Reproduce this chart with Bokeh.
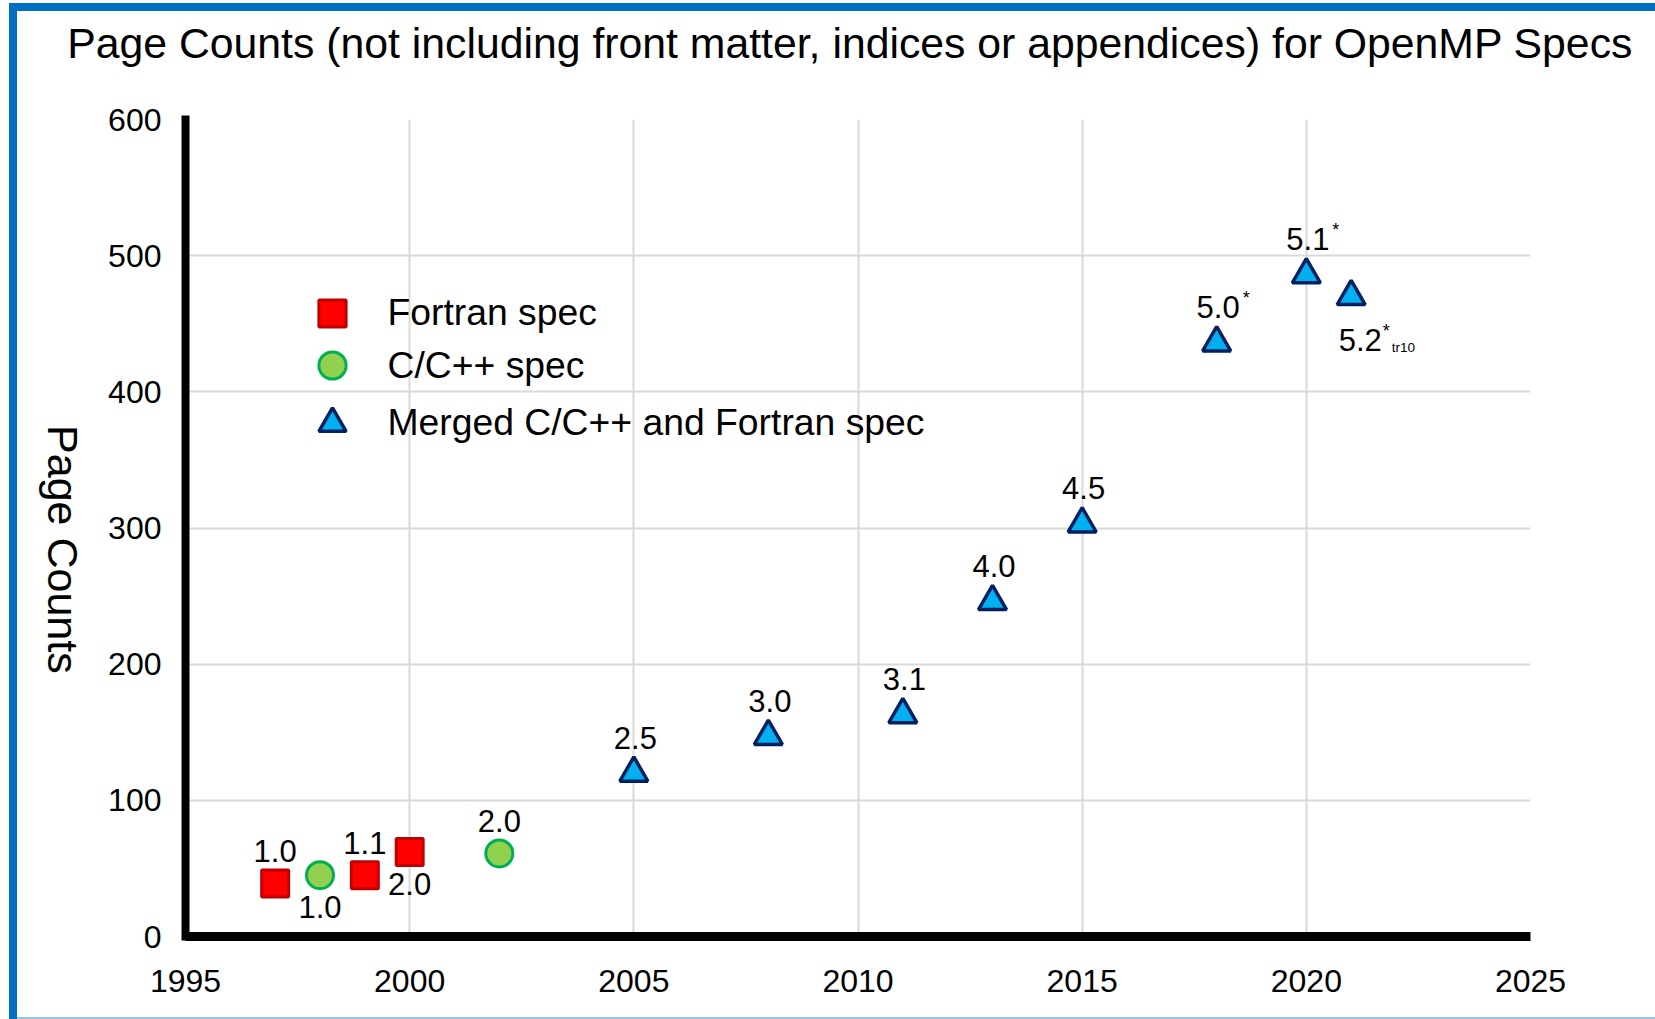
import math
from bokeh.plotting import figure
from bokeh.models import (Legend, LegendItem, LinearAxis, Title, FixedTicker,
                          SingleIntervalTicker, Range1d, ColumnDataSource)
from bokeh.core.properties import value
from bokeh.embed import file_html
from bokeh.resources import INLINE

# ---------------- data ----------------
title_text = "Page Counts (not including front matter, indices or appendices) for OpenMP Specs"
y_title = "Page Counts"

fortran_years = [1997, 1999, 2000]
fortran_pages = [39, 45, 62]
fortran_versions = ["1.0", "1.1", "2.0"]

c_years = [1998, 2002]
c_pages = [45, 61]
c_versions = ["1.0", "2.0"]

merged_years = [2005, 2008, 2011, 2013, 2015, 2018, 2020, 2021]
merged_pages = [120, 147, 163, 246, 303, 436, 486, 470]
merged_versions = ["2.5", "3.0", "3.1", "4.0", "4.5", "5.0", "5.1", "5.2"]
merged_marks = ["", "", "", "", "", "*", "*", "*"]
merged_notes = ["", "", "", "", "", "", "", "tr10"]

series_names = ["Fortran spec", "C/C++ spec", "Merged C/C++ and Fortran spec"]

x_start, x_end, x_step = 1995, 2025, 5
y_start, y_end, y_step = 0, 600, 100

# label placement (style, not data)
fortran_place = ["above", "above", "below"]
c_place = ["below", "above"]
merged_place = ["above-tri"] * 7 + ["below-right"]

FONT = "Liberation Sans"

p = figure(width=1655, height=1019,
           x_range=Range1d(x_start, x_end), y_range=Range1d(y_start, y_end),
           output_backend="svg", toolbar_location=None, title=None,
           min_border_left=185, min_border_right=125,
           min_border_top=119, min_border_bottom=83)
p.background_fill_color = "white"
p.border_fill_color = "white"
p.border_fill_alpha = 0
p.outline_line_color = None
p.styles = {
    "background-color": "white",
    "box-shadow": ("inset 9px 0 0 0 #ffffff, inset 0 3px 0 0 #ffffff, "
                   "inset 17px 0 0 0 #0070C0, inset 0 11px 0 0 #0070C0, "
                   "inset 0 -2px 0 0 #9DC3E6"),
}

# axes
p.xaxis.ticker = SingleIntervalTicker(interval=x_step, num_minor_ticks=0)
p.yaxis.ticker = SingleIntervalTicker(interval=y_step, num_minor_ticks=0)
for ax in (p.xaxis[0], p.yaxis[0]):
    ax.major_tick_in = 0
    ax.major_tick_out = 0
    ax.minor_tick_in = 0
    ax.minor_tick_out = 0
    ax.axis_line_color = "black"
    ax.major_label_text_font = FONT
    ax.major_label_text_font_size = "32px"
    ax.major_label_text_color = "black"
p.xaxis.axis_line_width = 9
p.yaxis.axis_line_width = 8
p.yaxis.axis_line_cap = "square"
p.xaxis.major_label_standoff = 33
p.yaxis.major_label_standoff = 24

p.xgrid.ticker = p.xaxis[0].ticker
p.ygrid.ticker = p.yaxis[0].ticker
for g in (p.xgrid[0], p.ygrid[0]):
    g.grid_line_color = "#D9D9D9"
    g.grid_line_width = 2

# y-axis title: an extra label-only axis on the left, text rotated clockwise
# (the label ends at the tick position)
ylab_pos = 193
ylab_axis = LinearAxis(ticker=FixedTicker(ticks=[ylab_pos]),
                       major_label_overrides={ylab_pos: y_title},
                       major_label_orientation=-math.pi / 2,
                       axis_line_color=None, major_tick_line_color=None,
                       minor_tick_line_color=None,
                       major_tick_in=0, major_tick_out=0,
                       minor_tick_in=0, minor_tick_out=0,
                       major_label_standoff=43,
                       major_label_text_font=FONT,
                       major_label_text_font_size="43px",
                       major_label_text_color="black")
p.add_layout(ylab_axis, "left")

# spacer between title and frame, then the title (outermost)
p.add_layout(Title(text=" ", standoff=3, text_font=FONT,
                   text_font_size="42.75px", text_font_style="normal"), "above")
p.add_layout(Title(text=title_text, align="left", offset=-118.3,
                   vertical_align="bottom", standoff=0,
                   text_font=FONT, text_font_size="42.75px",
                   text_font_style="normal", text_color="black"), "above")

# series
r_f = p.scatter(fortran_years, fortran_pages, marker="square", size=27,
                fill_color="#FF0000", line_color="#C00000", line_width=3)
r_c = p.scatter(c_years, c_pages, marker="circle", size=27,
                fill_color="#92D050", line_color="#00B050", line_width=3)
r_m = p.scatter(merged_years, merged_pages, marker="triangle", size=28,
                fill_color="#00B0F0", line_color="#002060", line_width=3.5)

# point labels
all_years = fortran_years + c_years + merged_years
all_pages = fortran_pages + c_pages + merged_pages
all_versions = fortran_versions + c_versions + merged_versions
all_marks = [""] * (len(fortran_years) + len(c_years)) + merged_marks
all_notes = [""] * (len(fortran_years) + len(c_years)) + merged_notes
all_place = fortran_place + c_place + merged_place

PLACE = {
    "above": dict(align="center", dx=0, dy=-32.5, sdx=25, sdy=-44.5, ndx=30, ndy=-30),
    "above-tri": dict(align="center", dx=1.5, dy=-35.5, sdx=26, sdy=-44.5, ndx=30, ndy=-30),
    "below": dict(align="center", dx=0, dy=32, sdx=25, sdy=21, ndx=30, ndy=34),
    "below-right": dict(align="left", dx=-12.5, dy=43, sdx=31.5, sdy=34.7, ndx=40.5, ndy=51),
}

for place, st in PLACE.items():
    idx = [i for i, pl in enumerate(all_place) if pl == place]
    if not idx:
        continue
    src = ColumnDataSource(dict(
        x=[all_years[i] for i in idx], y=[all_pages[i] for i in idx],
        t=[all_versions[i] for i in idx]))
    p.text(x="x", y="y", text="t", source=src, x_offset=st["dx"], y_offset=st["dy"],
           text_align=st["align"], text_baseline="alphabetic",
           text_font=value(FONT), text_font_size="31px", text_color="black")
    sidx = [i for i in idx if all_marks[i]]
    if sidx:
        s2 = ColumnDataSource(dict(
            x=[all_years[i] for i in sidx], y=[all_pages[i] for i in sidx],
            t=[all_marks[i] for i in sidx]))
        p.text(x="x", y="y", text="t", source=s2, x_offset=st["sdx"], y_offset=st["sdy"],
               text_align="left", text_baseline="alphabetic",
               text_font=value(FONT), text_font_size="18px", text_color="black")
    nidx = [i for i in idx if all_notes[i]]
    if nidx:
        s3 = ColumnDataSource(dict(
            x=[all_years[i] for i in nidx], y=[all_pages[i] for i in nidx],
            t=[all_notes[i] for i in nidx]))
        p.text(x="x", y="y", text="t", source=s3, x_offset=st["ndx"], y_offset=st["ndy"],
               text_align="left", text_baseline="alphabetic",
               text_font=value(FONT), text_font_size="13.5px", text_color="black")

# legend: one single-row legend per series, stacked
legend_rows_y = [589.3, 536.8, 479.3]
for name, rend, ly in zip(series_names, [r_f, r_c, r_m], legend_rows_y):
    lg = Legend(items=[LegendItem(label=name, renderers=[rend])],
                location=(112.5, ly), glyph_width=68, glyph_height=68,
                spacing=0, padding=0, margin=0, label_standoff=22,
                label_text_font=FONT, label_text_font_size="37.3px",
                label_text_color="black", border_line_color=None,
                background_fill_alpha=0)
    p.add_layout(lg)

open("out.html", "w").write(file_html(p, INLINE))
